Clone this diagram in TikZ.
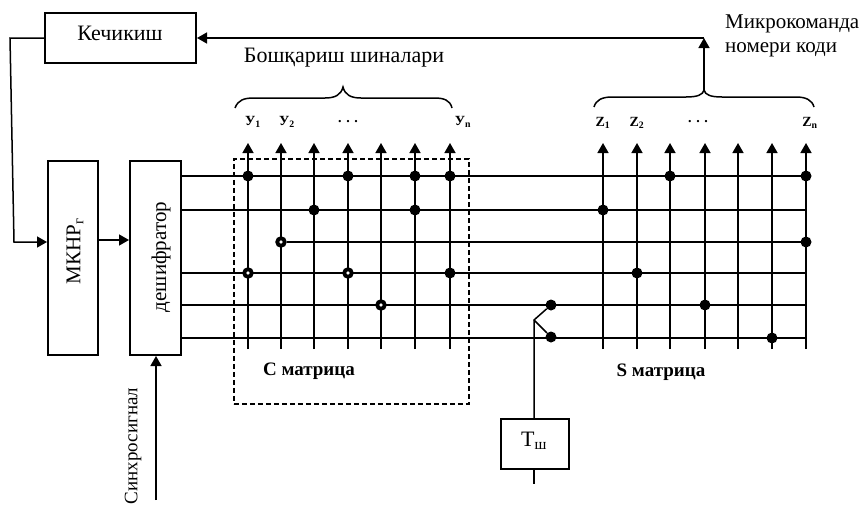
\documentclass[tikz,border=0pt]{standalone}
\usepackage{fontspec}
\setmainfont{Liberation Serif}
\usetikzlibrary{arrows.meta,calc}
\tikzset{
  box/.style={draw,line width=2pt,inner sep=0pt,anchor=north west},
  ln/.style={line width=1.5pt},
  arr/.style={ln,-{Triangle[length=10pt,width=11pt]}},
  fulldot/.style={circle,fill=black,inner sep=0pt,minimum size=11pt},
  opendot/.style={circle,draw=black,fill=white,line width=3.8pt,inner sep=0pt,minimum size=7.5pt},
  lab/.style={inner sep=0pt,font=\fontsize{14}{14}\selectfont\bfseries},
  big/.style={inner sep=0pt,font=\fontsize{21}{24}\selectfont},
}
\begin{document}
\begin{tikzpicture}[x=1pt,y=-1pt]
\useasboundingbox (0,0) rectangle (864,506);
% boxes
\node[box,minimum width=151pt,minimum height=50pt] (kech) at (44,12) {};
\node[big,font=\fontsize{22}{24}\selectfont] (kecht) at (120,33) {Кечикиш};
\node[box,minimum width=50pt,minimum height=194pt] (mk) at (47,160) {};
\node[big,rotate=90] (mkt) at (75,251) {МКНР\textsubscript{г}};
\node[box,minimum width=51pt,minimum height=194pt] (dec) at (129,160) {};
\node[big,rotate=90] (dect) at (161,257) {дешифратор};
\node[box,line width=1.6pt,minimum width=68pt,minimum height=50pt] (tsh) at (500,418) {};
\node[inner sep=0pt,font=\fontsize{22}{22}\selectfont] (tsht) at (534,441) {Т\textsubscript{ш}};
% dashed frame
\node[box,line width=1.6pt,dash pattern=on 5pt off 3pt,minimum width=235pt,minimum height=245pt] (frame) at (233,158) {};
% grid coordinates
\foreach \n/\x in {1/248,2/281,3/314,4/348,5/381,6/415,7/450,8/603,9/637,10/670,11/705,12/738,13/772,14/806}{
  \coordinate (t\n) at (\x,143);
  \coordinate (b\n) at (\x,349);
}
\foreach \r/\y in {1/176,2/210,3/242,4/273,5/305,6/338}{
  \coordinate (s\r) at (180,\y);
  \coordinate (e\r) at (806,\y);
}
% columns
\foreach \n in {1,...,14}{ \draw[arr] (b\n) -- (t\n); }
% rows
\foreach \r in {1,2,4,5,6}{ \draw[ln] (s\r) -- (e\r); }
% dots
\foreach \r/\c in {1/1,1/4,1/6,1/7,1/10,1/14,2/3,2/6,2/8,3/14,4/7,4/9,5/11,6/13}{
  \node[fulldot] (d\r-\c) at (t\c |- s\r) {};
}
\foreach \r/\c in {3/2,4/1,4/4,5/5}{
  \node[opendot] (d\r-\c) at (t\c |- s\r) {};
}
\draw[ln] (d3-2) -- (e3);
% Tш branches
\node[fulldot] (da) at (551,305) {};
\node[fulldot] (db) at (551,337) {};
\coordinate (fork) at (534,320);
\draw[ln] (tsh.north -| fork) -- (fork) -- (da);
\draw[ln] (fork) -- (db);
\coordinate (stub) at (534,484);
\draw[ln] (tsh.south -| stub) -- (stub);
% left connectors
\coordinate (k1) at (10,38);
\coordinate (k2) at (14,242);
\draw[arr] (kech.west |- k1) -- (k1) -- (k2) -- (mk.west |- k2);
\coordinate (m1) at (97,240);
\draw[arr] (m1) -- (dec.west |- m1);
\coordinate (sy) at (156,500);
\draw[arr] (sy) -- (dec.south -| sy);
% braces
\draw[ln] (235,108) .. controls (238,100) and (244,98) .. (254,98) -- (325,98) .. controls (335,98) and (341,95) .. (343,87) .. controls (345,95) and (351,98) .. (361,98) -- (434,98) .. controls (444,98) and (450,100) .. (452,108);
\draw[ln] (594,107) .. controls (596,100) and (602,97) .. (612,97) -- (686,97) .. controls (697,97) and (703,95) .. (704,90) .. controls (705,95) and (711,97) .. (722,97) -- (796,97) .. controls (806,97) and (812,100) .. (814,107);
\coordinate (top) at (704,38);
\coordinate (brt) at (704,90);
\draw[arr] (brt) -- (top);
\draw[arr] (top) -- (kech.east |- top);
% labels
\node[big,font=\fontsize{22}{24}\selectfont] (bosh) at (344,58) {Бошқариш шиналари};
\node[big,align=left,anchor=west] (mik) at (725,36) {Микрокоманда\\номери коди};
\node[lab] (y1) at (253,122) {У\textsubscript{1}};
\node[lab] (y2) at (287,122) {У\textsubscript{2}};
\node[lab] (yd) at (348,122) {. . .};
\node[lab] (yn) at (463,122) {У\textsubscript{n}};
\node[lab] (z1) at (603,123) {Z\textsubscript{1}};
\node[lab] (z2) at (637,123) {Z\textsubscript{2}};
\node[lab] (zd) at (698,122) {. . .};
\node[lab] (zn) at (810,123) {Z\textsubscript{n}};
\node[inner sep=0pt,font=\fontsize{19}{20}\selectfont\bfseries] (cm) at (309,371) {С матрица};
\node[inner sep=0pt,font=\fontsize{19}{20}\selectfont\bfseries] (sm) at (661,372) {S матрица};
\node[big,font=\fontsize{19}{20}\selectfont,rotate=90] (syn) at (133,446) {Синхросигнал};
\end{tikzpicture}
\end{document}
